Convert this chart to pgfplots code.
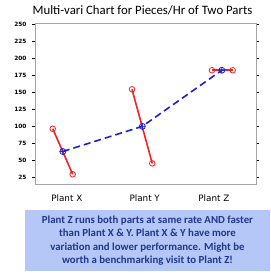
\documentclass[border=0pt]{standalone}
\usepackage{pgfplots}
\pgfplotsset{compat=1.18}
\usepackage{fontspec}
\setmainfont{Carlito}
\newfontfamily\dejavu{DejaVu Sans}
\definecolor{boxfill}{RGB}{180,199,247}
\definecolor{txtblue}{RGB}{31,56,140}
\definecolor{myred}{RGB}{240,35,35}
\definecolor{myblue}{RGB}{30,30,210}
\begin{document}
\begin{tikzpicture}[x=1pt,y=1pt]
\useasboundingbox (0,0) rectangle (271,274);
\fill[boxfill] (25,3) rectangle (270,64);
\node[align=center, font=\bfseries\fontsize{10.8}{13.5}\selectfont, text=txtblue] at (147.5,33.5) {Plant Z runs both parts at same rate AND faster\\than Plant X \& Y. Plant X \& Y have more\\variation and lower performance. Might be\\worth a benchmarking visit to Plant Z!};
\node[font=\fontsize{12.8}{14}\selectfont] at (142.5,264) {Multi-vari Chart for Pieces/Hr of Two Parts};
\begin{axis}[at={(35pt,90pt)}, anchor=south west, scale only axis,
  width=221pt, height=161pt,
  xmin=0.65, xmax=3.43, ymin=14.7, ymax=251.5,
  ytick={25,50,...,250},
  xtick={1.05,2.03,2.9}, xticklabels={Plant X, Plant Y, Plant Z},
  axis line style={draw=gray!70, line width=0.8pt},
  tick align=outside,
  ytick style={draw=black, line width=0.6pt},
  xtick style={draw=none},
  major tick length=3pt,
  /pgf/number format/assume math mode=true,
  yticklabel style={font=\dejavu\bfseries\fontsize{5.8}{6}\selectfont, xshift=-2pt},
  xticklabel style={font=\dejavu\fontsize{8.8}{10}\selectfont, yshift=-4pt},
  clip=false,
]
\addplot[myred, line width=1.6pt, mark=o, mark size=2.8pt, mark options={solid, line width=0.8pt}] coordinates {(0.873,96) (1.124,29)};
\addplot[myred, line width=1.6pt, mark=o, mark size=2.8pt, mark options={solid, line width=0.8pt}] coordinates {(1.87,154) (2.125,45)};
\addplot[myred, line width=1.6pt, mark=o, mark size=2.8pt, mark options={solid, line width=0.8pt}] coordinates {(2.876,182) (3.137,182)};
\addplot[myblue, line width=1.6pt, dash pattern=on 7pt off 4pt, mark=oplus, mark size=3pt, mark options={solid, line width=0.8pt}] coordinates {(1,62.5) (2,99.5) (3,182)};
\end{axis}
\end{tikzpicture}
\end{document}
